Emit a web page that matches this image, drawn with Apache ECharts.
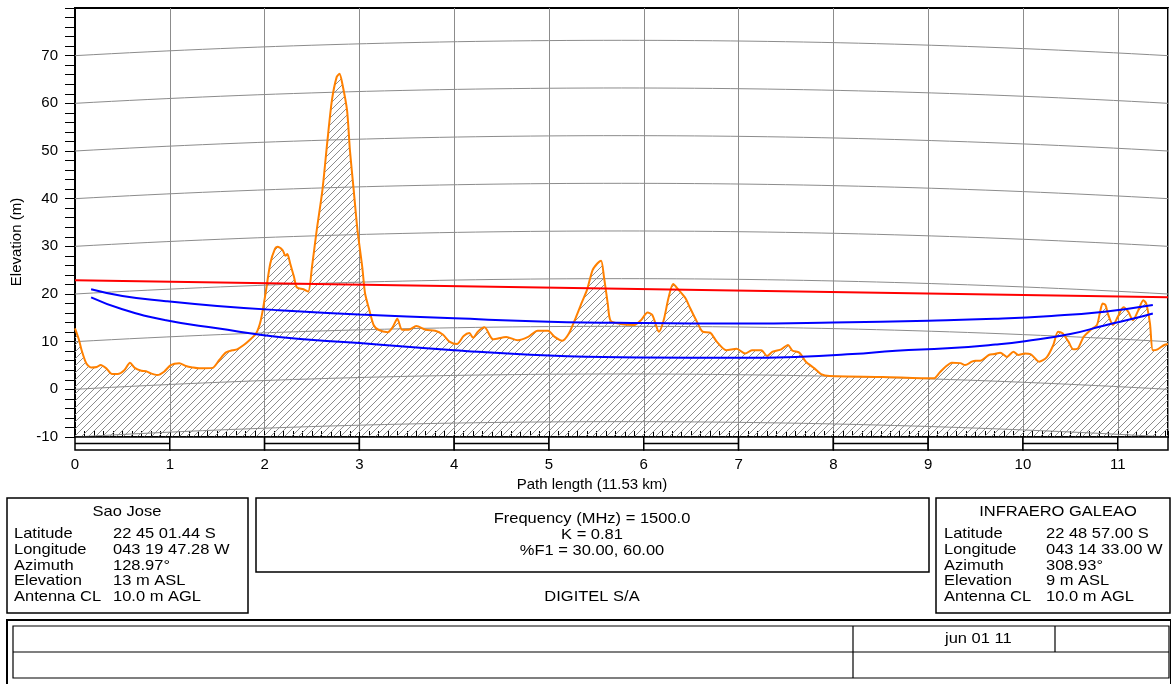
<!DOCTYPE html>
<html>
<head>
<meta charset="utf-8">
<title>Path profile</title>
<script src="https://cdn.jsdelivr.net/npm/echarts/dist/echarts.min.js"></script>
<style>
    html, body { margin: 0; padding: 0; background: #fff; }
    #chart { width: 1171px; height: 684px; }
</style>
</head>
<body>
<div id="chart"></div>
<script>
    // path + earth curvature
    const PATH_KM = 11.53;
    const K_FACTOR = 0.81;

    // terrain profile (km, m)
    const terrainKm = [
        0.00, 0.04, 0.07, 0.12, 0.17, 0.23, 0.27, 0.33, 0.39, 0.45, 0.52, 0.58, 0.63, 0.70, 0.75, 0.80,
        0.87, 0.94, 1.01, 1.10, 1.17, 1.24, 1.31, 1.45, 1.52, 1.59, 1.66, 1.71, 1.78, 1.84, 1.91, 1.96,
        2.01, 2.06, 2.11, 2.135, 2.19, 2.22, 2.24, 2.27, 2.31, 2.34, 2.41, 2.46, 2.50, 2.55, 2.61, 2.66,
        2.71, 2.76, 2.79, 2.82, 2.87, 2.90, 2.94, 2.98, 3.03, 3.06, 3.10, 3.15, 3.20, 3.30, 3.35, 3.40,
        3.45, 3.52, 3.60, 3.70, 3.80, 3.88, 3.95, 4.03, 4.10, 4.16, 4.20, 4.25, 4.32, 4.41, 4.55, 4.67,
        4.78, 4.88, 4.99, 5.06, 5.14, 5.21, 5.28, 5.35, 5.40, 5.46, 5.51, 5.55, 5.58, 5.62, 5.65, 5.76,
        5.90, 5.97, 6.04, 6.09, 6.16, 6.21, 6.26, 6.31, 6.37, 6.44, 6.49, 6.56, 6.62, 6.70, 6.77, 6.87,
        6.98, 7.07, 7.14, 7.24, 7.30, 7.36, 7.45, 7.52, 7.57, 7.64, 7.71, 7.80, 7.87, 7.96, 8.52, 9.06,
        9.12, 9.18, 9.25, 9.34, 9.39, 9.46, 9.50, 9.55, 9.64, 9.70, 9.76, 9.83, 9.90, 9.95, 10.02, 10.08,
        10.17, 10.25, 10.32, 10.37, 10.42, 10.48, 10.53, 10.58, 10.64, 10.71, 10.78, 10.81, 10.84, 10.87, 10.90, 10.95,
        11.00, 11.06, 11.11, 11.16, 11.21, 11.27, 11.30, 11.34, 11.37, 11.42, 11.49, 11.53
    ];
    const terrainElev = [
        12.8, 10.5, 8.2, 5.4, 4.6, 4.7, 5.1, 4.4, 3.2, 3.2, 4.0, 5.6, 4.5, 3.9, 3.8, 3.35,
        3.0, 3.7, 5.1, 5.45, 4.9, 4.6, 4.4, 4.5, 6.1, 7.7, 8.2, 8.4, 9.3, 10.3, 11.7, 14.5,
        20.1, 26.4, 29.5, 29.9, 29.2, 28.0, 28.4, 26.4, 23.6, 21.4, 21.0, 20.5, 25.7, 33.4, 41.8, 51.6,
        60.6, 65.5, 66.2, 64.1, 58.5, 50.2, 41.8, 33.4, 25.7, 20.1, 17.0, 13.5, 12.5, 12.0, 13.0, 14.8,
        12.5, 12.5, 13.3, 12.5, 12.3, 11.5, 10.0, 9.5, 11.2, 11.8, 10.8, 12.1, 13.0, 10.5, 11.0, 10.3,
        11.0, 12.3, 12.3, 11.0, 10.2, 11.7, 14.9, 18.4, 20.8, 25.0, 26.4, 27.0, 23.6, 18.0, 14.4, 13.7,
        13.5, 14.5, 16.1, 15.6, 12.1, 14.5, 19.1, 22.1, 20.8, 19.1, 17.0, 14.2, 12.1, 11.9, 10.0, 8.2,
        8.5, 7.5, 8.2, 8.2, 7.0, 7.9, 8.4, 9.3, 8.1, 7.7, 5.8, 4.4, 3.2, 2.8, 2.6, 2.3,
        3.5, 4.7, 5.6, 5.5, 5.1, 5.8, 6.0, 6.0, 7.2, 7.4, 7.7, 6.8, 7.9, 7.2, 7.5, 7.4,
        5.8, 6.7, 9.3, 12.1, 11.7, 10.0, 8.4, 8.6, 11.0, 12.4, 13.5, 15.9, 18.0, 17.7, 15.6, 13.5,
        15.2, 17.2, 16.3, 14.5, 16.3, 18.7, 18.0, 13.8, 8.2, 8.4, 9.3, 9.5
    ];

    // line of sight
    const losKm = [0, 11.53];
    const losElev = [22.9, 19.3];

    // 30% F1 clearance
    const f30Km = [0.17, 0.5, 0.96, 1.5, 2.15, 3.0, 4.0, 5.0, 6.0, 7.0, 8.0, 9.0, 9.7, 10.3, 10.86, 11.37];
    const f30Elev = [21.0, 19.6, 18.5, 17.5, 16.6, 15.7, 14.9, 14.2, 13.9, 13.8, 14.0, 14.4, 14.8, 15.4, 16.3, 17.7];

    // 60% F1 clearance
    const f60Km = [0.17, 0.5, 0.96, 1.5, 2.15, 3.0, 4.0, 5.0, 6.0, 7.0, 7.6, 8.2, 8.66, 9.2, 9.71, 10.02, 10.5, 10.86, 11.2, 11.37];
    const f60Elev = [19.3, 16.8, 14.5, 12.8, 11.0, 9.7, 8.2, 7.1, 6.7, 6.6, 6.8, 7.4, 8.1, 8.6, 9.4, 10.1, 11.6, 13.4, 15.0, 15.9];

    // curved elevation lines + km scale bar
    const curveLevels = [-10, 0, 10, 20, 30, 40, 50, 60, 70];
    const scaleKm = [0, 1, 2, 3, 4, 5, 6, 7, 8, 9, 10, 11];

    // info panels
    const siteA = {
        name: 'Sao Jose',
        rows: [['Latitude', '22 45 01.44 S'], ['Longitude', '043 19 47.28 W'], ['Azimuth', '128.97°'],
            ['Elevation', '13 m ASL'], ['Antenna CL', '10.0 m AGL']]
    };
    const siteB = {
        name: 'INFRAERO GALEAO',
        rows: [['Latitude', '22 48 57.00 S'], ['Longitude', '043 14 33.00 W'], ['Azimuth', '308.93°'],
            ['Elevation', '9 m ASL'], ['Antenna CL', '10.0 m AGL']]
    };
    const linkLines = ['Frequency (MHz) = 1500.0', 'K = 0.81', '%F1 = 30.00, 60.00'];
    const companyName = 'DIGITEL S/A';
    const dateText = 'jun 01 11';
    const xName = 'Path length (11.53 km)';
    const yName = 'Elevation (m)';

    const FONT = '"Liberation Sans", Arial, sans-serif';
    const STRETCH = 1.1; // panel text in the source is drawn a bit wide

    const zip = (a, b) => a.map((v, i) => [v, b[i]]);

    // earth bulge (m) for distance d (km)
    function bulge(d) {
        return d * (PATH_KM - d) / (12.74 * K_FACTOR);
    }

    function makeHatch() {
        const c = document.createElement('canvas');
        c.width = 7;
        c.height = 7;
        const g = c.getContext('2d');
        g.strokeStyle = '#8c8c8c';
        g.lineWidth = 1;
        g.beginPath();
        g.moveTo(-1, 8); g.lineTo(8, -1);
        g.moveTo(-1, 1); g.lineTo(1, -1);
        g.moveTo(6, 8); g.lineTo(8, 6);
        g.stroke();
        return c;
    }

    function txt(x, y, text, align, size, rot, sx) {
        return {
            type: 'text', silent: true,
            x: x, y: y, scaleX: sx || 1, rotation: rot || 0,
            style: {
                x: 0, y: 0, text: text, fill: '#000', font: (size || 15) + 'px ' + FONT,
                textAlign: align || 'left', align: align || 'left',
                textVerticalAlign: 'middle', verticalAlign: 'middle'
            }
        };
    }

    function ptxt(x, y, text, align) {
        return txt(x, y, text, align, 15, 0, STRETCH);
    }

    function box(x, y, w, h, lw) {
        return {
            type: 'rect', silent: true,
            shape: {x: x, y: y, width: w, height: h},
            style: {fill: null, stroke: '#000', lineWidth: lw || 1.5}
        };
    }

    function hline(x1, x2, y) {
        return {type: 'line', silent: true, shape: {x1: x1, y1: y, x2: x2, y2: y}, style: {stroke: '#000', lineWidth: 1.2}};
    }

    function vline(x, y1, y2) {
        return {type: 'line', silent: true, shape: {x1: x, y1: y1, x2: x, y2: y2}, style: {stroke: '#000', lineWidth: 1.2}};
    }

    function sitePanel(site, x, w, titleX, labelX, valueX) {
        const els = [box(x, 498, w, 115), ptxt(titleX, 512, site.name, 'center')];
        site.rows.forEach((r, i) => {
            const y = 534 + i * 15.7;
            els.push(ptxt(labelX, y, r[0]));
            els.push(ptxt(valueX, y, r[1]));
        });
        return els;
    }

    const graphics = [].concat(
        [txt(592, 485, xName, 'center', 15), txt(17, 242, yName, 'center', 15, Math.PI / 2)],
        sitePanel(siteA, 7, 241, 127, 14, 113),
        sitePanel(siteB, 936, 234, 1058, 944, 1046),
        [box(256, 498, 673, 74)],
        linkLines.map((t, i) => ptxt(592, 519 + i * 16, t, 'center')),
        [ptxt(592, 597, companyName, 'center')],
        [
            box(7, 620, 1164, 72, 2),
            box(13, 626, 1156, 52, 1.2),
            hline(13, 1169, 652),
            vline(853, 626, 678),
            vline(1055, 626, 652),
            ptxt(945, 639, dateText)
        ]
    );

    const chart = echarts.init(document.getElementById('chart'));

    const option = {
        backgroundColor: '#fff',
        animation: false,
        grid: {
            left: 75, top: 8, width: 1098, height: 429,
            show: true, borderColor: '#000', borderWidth: 2
        },
        xAxis: [
            {
                type: 'value', min: 0, max: PATH_KM, interval: 1,
                axisLine: {show: true, onZero: false, lineStyle: {color: '#000', width: 2}},
                axisTick: {show: false},
                axisLabel: {
                    margin: 20, color: '#000', fontFamily: FONT, fontSize: 15,
                    formatter: v => (Math.abs(v - Math.round(v)) < 1e-6 ? String(Math.round(v)) : '')
                },
                splitLine: {show: true, lineStyle: {color: '#8c8c8c', width: 1}}
            },
            {
                // 0.1 km inside ticks
                type: 'value', gridIndex: 0, position: 'bottom', min: 0, max: PATH_KM, interval: 0.1,
                axisLine: {show: false, onZero: false},
                axisLabel: {show: false},
                splitLine: {show: false},
                axisTick: {show: true, inside: true, length: 6, lineStyle: {color: '#000', width: 1}}
            }
        ],
        yAxis: {
            type: 'value', min: -10, max: 80, interval: 10,
            axisLine: {show: true, onZero: false, lineStyle: {color: '#000', width: 2}},
            axisTick: {show: true, length: 10, lineStyle: {color: '#000', width: 1}},
            minorTick: {show: true, splitNumber: 5, length: 10, lineStyle: {color: '#000', width: 1}},
            axisLabel: {
                margin: 17, color: '#000', fontFamily: FONT, fontSize: 15,
                formatter: v => (v >= 80 ? '' : String(v))
            },
            splitLine: {show: false}
        },
        graphic: graphics,
        series: [
            {
                // earth curvature reference lines
                type: 'custom', name: 'curves', silent: true, z: 1,
                data: curveLevels.map(v => [0, v]),
                renderItem: function (params, api) {
                    const base = api.value(1);
                    const pts = [];
                    for (let i = 0; i <= 60; i++) {
                        const d = PATH_KM * i / 60;
                        pts.push(api.coord([d, base + bulge(d)]));
                    }
                    return {
                        type: 'polyline', silent: true,
                        shape: {points: pts},
                        style: {stroke: '#8c8c8c', lineWidth: 1, fill: null}
                    };
                }
            },
            {
                type: 'line', name: 'terrain', z: 2,
                data: zip(terrainKm, terrainElev),
                symbol: 'none', smooth: 0.25,
                lineStyle: {color: '#ff8000', width: 2},
                areaStyle: {origin: 'start', opacity: 1, color: {image: makeHatch(), repeat: 'repeat'}}
            },
            {
                type: 'line', name: 'los', z: 3,
                data: zip(losKm, losElev),
                symbol: 'none',
                lineStyle: {color: '#ff0000', width: 2}
            },
            {
                type: 'line', name: 'f30', z: 3,
                data: zip(f30Km, f30Elev),
                symbol: 'none', smooth: true,
                lineStyle: {color: '#0000ff', width: 2}
            },
            {
                type: 'line', name: 'f60', z: 3,
                data: zip(f60Km, f60Elev),
                symbol: 'none', smooth: true,
                lineStyle: {color: '#0000ff', width: 2}
            },
            {
                // km scale bar under the axis
                type: 'custom', name: 'scale', silent: true, z: 5,
                data: scaleKm.map(k => [k, -10]),
                renderItem: function (params, api) {
                    const k = api.value(0);
                    const p0 = api.coord([k, -10]);
                    const p1 = api.coord([Math.min(k + 1, PATH_KM), -10]);
                    const children = [{
                        type: 'rect',
                        shape: {x: p0[0], y: p0[1], width: p1[0] - p0[0], height: 13},
                        style: {fill: '#fff', stroke: '#000', lineWidth: 1.5}
                    }];
                    if (k % 2 === 0) {
                        children.push({
                            type: 'line',
                            shape: {x1: p0[0], y1: p0[1] + 6.5, x2: p1[0], y2: p0[1] + 6.5},
                            style: {stroke: '#000', lineWidth: 1.5}
                        });
                    }
                    return {type: 'group', children: children};
                }
            }
        ]
    };

    chart.setOption(option);
</script>
</body>
</html>
